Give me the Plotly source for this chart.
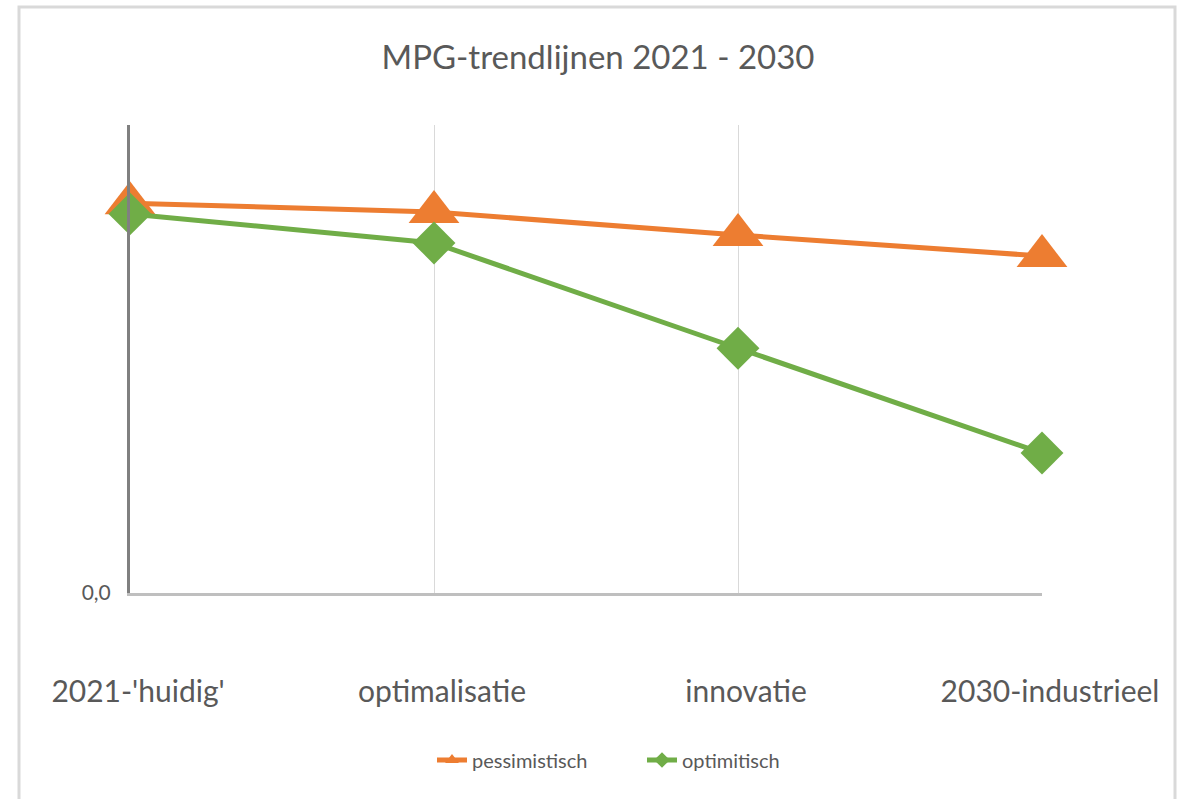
import plotly.graph_objects as go

categories = ["2021-'huidig'", "optimalisatie", "innovatie", "2030-industrieel"]
pessimistisch = [0.833, 0.814, 0.765, 0.720]
optimistisch = [0.810, 0.748, 0.523, 0.299]
y_tick_vals = [0]
y_tick_text = ["0,0"]

W, H = 1182, 799
L, R, T, B = 130, 140, 125, 206
FONT = "Lato, 'Open Sans', sans-serif"
TXT = "#595959"
ORANGE = "#ED7D31"
GREEN = "#70AD47"

fig = go.Figure()
fig.add_trace(go.Scatter(
    x=categories, y=pessimistisch, name="pessimistisch", mode="lines+markers",
    line=dict(color=ORANGE, width=5),
    marker=dict(symbol="triangle-up", size=44, color=ORANGE),
    cliponaxis=False,
))
fig.add_trace(go.Scatter(
    x=categories, y=optimistisch, name="optimitisch", mode="lines+markers",
    line=dict(color=GREEN, width=5),
    marker=dict(symbol="diamond", size=33, color=GREEN),
    cliponaxis=False,
))

pw = W - L - R
ph = H - T - B
def px_x(p):
    return (p - L) / pw
def px_y(p):
    return (H - B - p) / ph

fig.add_shape(type="rect", xref="paper", yref="paper",
              x0=px_x(19), x1=px_x(1175), y0=px_y(810), y1=px_y(7),
              line=dict(color="#d9d9d9", width=3), fillcolor="rgba(0,0,0,0)", layer="below")

fig.update_layout(
    width=W, height=H,
    margin=dict(l=L, r=R, t=T, b=B),
    paper_bgcolor="white", plot_bgcolor="white",
    font=dict(family=FONT, color=TXT),
    title=dict(text="MPG-trendlijnen 2021 - 2030", x=598 / W, xanchor="center",
               y=1 - 57 / H, yanchor="middle",
               font=dict(family=FONT, size=33, color=TXT)),
    showlegend=True,
    legend=dict(orientation="h", x=px_x(432), xanchor="left", y=px_y(760), yanchor="middle",
                font=dict(family=FONT, size=20, color=TXT), itemsizing="constant",
                entrywidth=165, entrywidthmode="pixels",
                bgcolor="rgba(0,0,0,0)"),
    xaxis=dict(type="category", range=[0, len(categories) - 1],
               showgrid=True, gridcolor="#d9d9d9", gridwidth=1,
               showline=True, linecolor="#bfbfbf", linewidth=3,
               ticks="outside", ticklen=70, tickcolor="rgba(0,0,0,0)",
               ticklabelshift=8,
               tickfont=dict(family=FONT, size=30, color=TXT), zeroline=False),
    yaxis=dict(range=[0, 1.0], tickvals=y_tick_vals, ticktext=y_tick_text,
               showgrid=False, zeroline=False,
               showline=True, linecolor="#808080", linewidth=3,
               ticks="outside", ticklen=12, tickcolor="rgba(0,0,0,0)",
               tickfont=dict(family=FONT, size=21, color=TXT)),
)

fig.write_html("out.html", config={"displayModeBar": False},
               post_script="document.body.style.margin='0';document.body.style.overflow='hidden';")
